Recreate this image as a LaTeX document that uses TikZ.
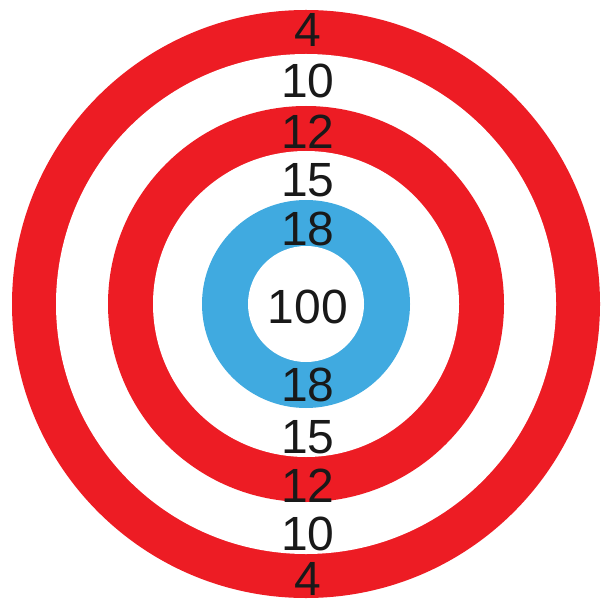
\documentclass[tikz,border=0pt]{standalone}
\usepackage{fontspec}
\setmainfont{Liberation Sans}
\definecolor{ringred}{RGB}{237,28,36}
\definecolor{ringblue}{RGB}{64,170,224}
\begin{document}
\begin{tikzpicture}[x=1pt,y=-1pt,
  score/.style={inner sep=0pt, anchor=center, font=\fontsize{48}{48}\selectfont, text=black!90}]
\useasboundingbox (0,0) rectangle (601,601);
\fill[white] (0,0) rectangle (601,601);
\coordinate (c) at (306,304);
\fill[ringred] (c) circle[radius=294];
\fill[white] (c) circle[radius=250];
\fill[ringred] (c) circle[radius=198];
\fill[white] (c) circle[radius=153];
\fill[ringblue] (c) circle[radius=104];
\fill[white] (c) circle[radius=58];
\node[score] (a4) at (308,29.5) {4};
\node[score] (a10) at (308,80.5) {10};
\node[score] (a12) at (308,131.5) {12};
\node[score] (a15) at (308,180.5) {15};
\node[score] (a18) at (308,228.5) {18};
\node[score] (bull) at (308,306.5) {100};
\node[score] (b18) at (308,384.5) {18};
\node[score] (b15) at (308,437.5) {15};
\node[score] (b12) at (308,485.5) {12};
\node[score] (b10) at (308,533.5) {10};
\node[score] (b4) at (308,578.5) {4};
\end{tikzpicture}
\end{document}
